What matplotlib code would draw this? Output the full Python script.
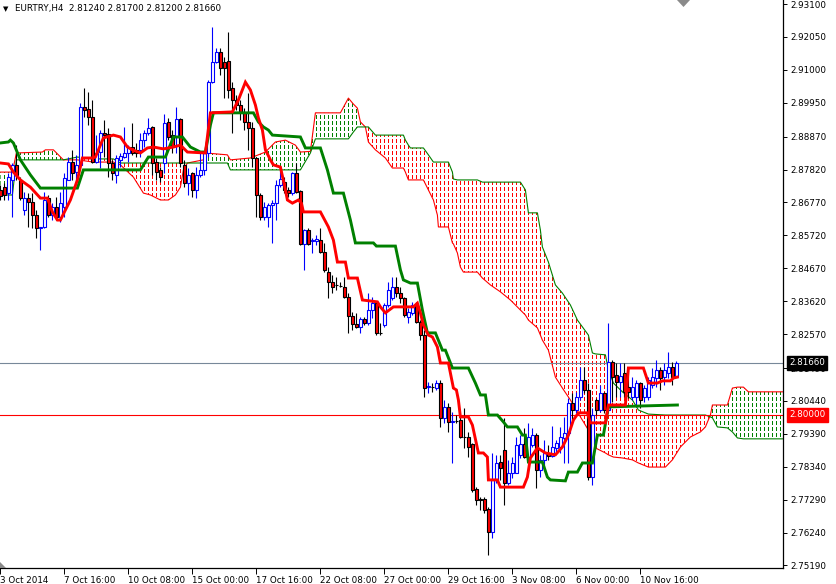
import numpy as np
import matplotlib
matplotlib.use("Agg")
import matplotlib.pyplot as plt
from matplotlib.path import Path
from matplotlib.patches import Polygon
from matplotlib.transforms import blended_transform_factory

# ---------------- data (EURTRY, H4) ----------------
opens = [2.8717, 2.8727, 2.8707, 2.8749, 2.8797, 2.8749, 2.8653, 2.8691, 2.8679, 2.8637,
         2.8596, 2.8599, 2.8691, 2.8637, 2.8663, 2.8631, 2.8663, 2.8749, 2.8806, 2.8774,
         2.8797, 2.8982, 2.8975, 2.8950, 2.8806, 2.8838, 2.8899, 2.8896, 2.8803, 2.8765,
         2.8813, 2.8822, 2.8835, 2.8854, 2.8845, 2.8845, 2.8876, 2.8899, 2.8918, 2.8806,
         2.8781, 2.8803, 2.8934, 2.8892, 2.8886, 2.8943, 2.8797, 2.8739, 2.8771, 2.8717,
         2.8765, 2.8781, 2.8835, 2.9061, 2.9125, 2.9157, 2.9125, 2.9128, 2.9042, 2.9004,
         2.8988, 2.8963, 2.8934, 2.8915, 2.8819, 2.8701, 2.8631, 2.8631, 2.8669, 2.8675,
         2.8733, 2.8742, 2.8717, 2.8707, 2.8771, 2.8714, 2.8545, 2.8589, 2.8554, 2.8554,
         2.8557, 2.8519, 2.8455, 2.8423, 2.8414, 2.8411, 2.8407, 2.8376, 2.8315, 2.8289,
         2.8280, 2.8305, 2.8293, 2.8334, 2.8356, 2.8261, 2.8286, 2.8350, 2.8372, 2.8407,
         2.8388, 2.8372, 2.8312, 2.8325, 2.8353, 2.8296, 2.8254, 2.8088, 2.8088, 2.8085,
         2.8101, 2.7990, 2.8025, 2.7977, 2.7980, 2.7983, 2.7929, 2.7929, 2.7907, 2.7763,
         2.7731, 2.7731, 2.7699, 2.7626, 2.7792, 2.7849, 2.7887, 2.7782, 2.7814, 2.7814,
         2.7872, 2.7907, 2.7865, 2.7903, 2.7935, 2.7824, 2.7856, 2.7878, 2.7868, 2.7894,
         2.7897, 2.7926, 2.7942, 2.8037, 2.8015, 2.8056, 2.8111, 2.8079, 2.7801, 2.8047,
         2.8015, 2.8069, 2.8015, 2.8168, 2.8127, 2.8104, 2.8133, 2.8088, 2.8056, 2.8056,
         2.8101, 2.8056, 2.8056, 2.8095, 2.8117, 2.8143, 2.8120, 2.8133, 2.8152, 2.8124]
highs = [2.8733, 2.8739, 2.8771, 2.8803, 2.8860, 2.8758, 2.8711, 2.8707, 2.8707, 2.8653,
         2.8599, 2.8711, 2.8701, 2.8675, 2.8695, 2.8711, 2.8771, 2.8822, 2.8845, 2.8829,
         2.8994, 2.9042, 2.9030, 2.9004, 2.8892, 2.8908, 2.8940, 2.8915, 2.8813, 2.8829,
         2.8835, 2.8918, 2.8860, 2.8931, 2.8867, 2.8899, 2.8908, 2.8947, 2.8921, 2.8819,
         2.8790, 2.8959, 2.8947, 2.8908, 2.8982, 2.8947, 2.8813, 2.8787, 2.8774, 2.8790,
         2.8835, 2.8838, 2.9068, 2.9237, 2.9170, 2.9170, 2.9141, 2.9221, 2.9061, 2.9020,
         2.9004, 2.8978, 2.9026, 2.8934, 2.8822, 2.8707, 2.8679, 2.8675, 2.8685, 2.8749,
         2.8787, 2.8758, 2.8727, 2.8774, 2.8803, 2.8717, 2.8592, 2.8596, 2.8564, 2.8573,
         2.8596, 2.8548, 2.8471, 2.8446, 2.8439, 2.8423, 2.8439, 2.8388, 2.8328, 2.8324,
         2.8312, 2.8312, 2.8388, 2.8375, 2.8360, 2.8293, 2.8356, 2.8423, 2.8439, 2.8439,
         2.8407, 2.8376, 2.8340, 2.8360, 2.8360, 2.8302, 2.8270, 2.8105, 2.8101, 2.8111,
         2.8111, 2.8047, 2.8037, 2.8009, 2.7999, 2.7993, 2.8022, 2.7945, 2.7910, 2.7769,
         2.7738, 2.7738, 2.7706, 2.7878, 2.7872, 2.7872, 2.7990, 2.7856, 2.7865, 2.7929,
         2.7935, 2.7958, 2.7974, 2.7958, 2.7942, 2.7872, 2.7919, 2.7903, 2.7964, 2.7919,
         2.7961, 2.7993, 2.8053, 2.8069, 2.8072, 2.8152, 2.8152, 2.8101, 2.8022, 2.8053,
         2.8095, 2.8072, 2.8293, 2.8175, 2.8165, 2.8165, 2.8165, 2.8120, 2.8120, 2.8111,
         2.8104, 2.8095, 2.8120, 2.8149, 2.8175, 2.8152, 2.8165, 2.8200, 2.8168, 2.8170]
lows = [2.8685, 2.8685, 2.8685, 2.8631, 2.8749, 2.8685, 2.8637, 2.8599, 2.8596, 2.8564,
        2.8526, 2.8596, 2.8631, 2.8621, 2.8621, 2.8615, 2.8631, 2.8749, 2.8749, 2.8739,
        2.8790, 2.8950, 2.8924, 2.8803, 2.8803, 2.8787, 2.8822, 2.8758, 2.8749, 2.8739,
        2.8790, 2.8819, 2.8806, 2.8829, 2.8822, 2.8822, 2.8854, 2.8892, 2.8765, 2.8749,
        2.8742, 2.8771, 2.8876, 2.8835, 2.8835, 2.8790, 2.8726, 2.8701, 2.8695, 2.8691,
        2.8758, 2.8765, 2.8822, 2.9058, 2.9122, 2.9084, 2.9010, 2.9010, 2.8899, 2.8972,
        2.8940, 2.8908, 2.8845, 2.8790, 2.8631, 2.8621, 2.8621, 2.8599, 2.8548, 2.8621,
        2.8726, 2.8707, 2.8695, 2.8701, 2.8707, 2.8542, 2.8462, 2.8542, 2.8516, 2.8542,
        2.8516, 2.8455, 2.8372, 2.8388, 2.8398, 2.8407, 2.8372, 2.8261, 2.8270, 2.8277,
        2.8261, 2.8286, 2.8286, 2.8309, 2.8254, 2.8254, 2.8280, 2.8344, 2.8366, 2.8376,
        2.8356, 2.8312, 2.8293, 2.8318, 2.8293, 2.8238, 2.8057, 2.8070, 2.8073, 2.8079,
        2.7961, 2.7974, 2.7945, 2.7846, 2.7974, 2.7926, 2.7894, 2.7865, 2.7754, 2.7712,
        2.7696, 2.7687, 2.7553, 2.7607, 2.7782, 2.7792, 2.7712, 2.7776, 2.7798, 2.7814,
        2.7862, 2.7862, 2.7856, 2.7897, 2.7766, 2.7801, 2.7830, 2.7856, 2.7865, 2.7878,
        2.7878, 2.7846, 2.7846, 2.7983, 2.8006, 2.8047, 2.8069, 2.7792, 2.7776, 2.7999,
        2.8009, 2.8006, 2.8006, 2.8041, 2.8056, 2.8056, 2.8056, 2.8053, 2.8047, 2.8025,
        2.8022, 2.8041, 2.8047, 2.8085, 2.8088, 2.8079, 2.8095, 2.8117, 2.8095, 2.8120]
closes = [2.8698, 2.8701, 2.8758, 2.8797, 2.8765, 2.8691, 2.8691, 2.8679, 2.8637, 2.8596,
          2.8599, 2.8685, 2.8637, 2.8663, 2.8631, 2.8675, 2.8755, 2.8806, 2.8771, 2.8797,
          2.8982, 2.8972, 2.8950, 2.8806, 2.8835, 2.8899, 2.8892, 2.8803, 2.8771, 2.8819,
          2.8825, 2.8835, 2.8854, 2.8835, 2.8835, 2.8876, 2.8899, 2.8915, 2.8803, 2.8774,
          2.8758, 2.8931, 2.8886, 2.8854, 2.8943, 2.8803, 2.8739, 2.8765, 2.8717, 2.8765,
          2.8781, 2.8835, 2.9061, 2.9125, 2.9157, 2.9106, 2.9106, 2.9036, 2.9004, 2.8988,
          2.8966, 2.8934, 2.8915, 2.8819, 2.8701, 2.8631, 2.8663, 2.8669, 2.8675, 2.8733,
          2.8752, 2.8717, 2.8707, 2.8771, 2.8711, 2.8545, 2.8589, 2.8545, 2.8557, 2.8560,
          2.8519, 2.8462, 2.8423, 2.8407, 2.8413, 2.8410, 2.8376, 2.8315, 2.8289, 2.8280,
          2.8305, 2.8293, 2.8334, 2.8356, 2.8261, 2.8260, 2.8350, 2.8398, 2.8407, 2.8388,
          2.8372, 2.8318, 2.8328, 2.8350, 2.8296, 2.8254, 2.8085, 2.8092, 2.8087, 2.8101,
          2.7990, 2.8025, 2.7977, 2.7980, 2.7979, 2.7929, 2.7928, 2.7897, 2.7760, 2.7728,
          2.7728, 2.7696, 2.7626, 2.7792, 2.7846, 2.7830, 2.7782, 2.7814, 2.7846, 2.7903,
          2.7907, 2.7865, 2.7929, 2.7935, 2.7824, 2.7856, 2.7878, 2.7868, 2.7897, 2.7910,
          2.7929, 2.7942, 2.8037, 2.8015, 2.8056, 2.8111, 2.8079, 2.7801, 2.7999, 2.8015,
          2.8069, 2.8015, 2.8168, 2.8120, 2.8104, 2.8124, 2.8073, 2.8073, 2.8088, 2.8101,
          2.8047, 2.8085, 2.8111, 2.8120, 2.8143, 2.8117, 2.8143, 2.8152, 2.8120, 2.8166]

# Ichimoku lines (bar index, price)
tenkan_bar = [0, 2, 3.25, 5, 7.5, 10, 11.75, 13, 14.25, 15, 16.25, 17.5, 19.25, 20.5, 23, 23.75,
              25.75, 28.25, 30, 31.75, 33, 35, 36.75, 38.25, 40.75, 43.25, 45, 46.75, 51.25,
              52.5, 58, 59.5, 61.25, 62.5, 63.75, 64.5, 65.5, 66.25, 67.5, 68.25, 70, 71,
              71.75, 73, 74.5, 75.25, 75.75, 80, 82, 83.25, 84.25, 86.25, 87, 89.25, 90.5,
              94.25, 95, 96.25, 98.25, 103.25, 104.25, 105, 105.75, 107, 108, 109.25, 110,
              112, 113.25, 114, 114.5, 115, 117, 118, 119.5, 120.75, 121.75, 122, 124.25,
              125, 130.75, 131.75, 132.5, 134.25, 136.25, 138.75, 140.5, 142, 143.25, 144.5,
              146.75, 147.5, 151.25, 152, 156.25, 157, 160.75, 162, 164.25, 165.5, 167.5,
              168.25, 169.25]
tenkan_val = [2.8803, 2.8800, 2.8774, 2.8749, 2.8726, 2.8691, 2.8691, 2.8647, 2.8621, 2.8621,
              2.8653, 2.8685, 2.8749, 2.8819, 2.8819, 2.8822, 2.8883, 2.8892, 2.8886, 2.8854,
              2.8845, 2.8835, 2.8851, 2.8854, 2.8848, 2.8854, 2.8860, 2.8838, 2.8835, 2.8963,
              2.8966, 2.9004, 2.9061, 2.9036, 2.8988, 2.8947, 2.8908, 2.8845, 2.8813, 2.8797,
              2.8790, 2.8733, 2.8685, 2.8675, 2.8685, 2.8675, 2.8647, 2.8647, 2.8599, 2.8557,
              2.8487, 2.8487, 2.8436, 2.8436, 2.8366, 2.8360, 2.8344, 2.8325, 2.8344, 2.8344,
              2.8356, 2.8325, 2.8286, 2.8254, 2.8248, 2.8216, 2.8165, 2.8165, 2.8085, 2.8079,
              2.8047, 2.7993, 2.7993, 2.7967, 2.7878, 2.7878, 2.7865, 2.7792, 2.7792, 2.7769,
              2.7769, 2.7801, 2.7862, 2.7894, 2.7878, 2.7872, 2.7897, 2.7935, 2.7983, 2.8006,
              2.8006, 2.7974, 2.7974, 2.8031, 2.8031, 2.8149, 2.8149, 2.8101, 2.8101, 2.8108,
              2.8108, 2.8117, 2.8120]

kijun_bar = [0, 2, 2.5, 3.25, 5, 7.5, 10, 19.25, 20.75, 35, 37, 41.25, 43.25, 45.5, 47.5, 50,
             51.25, 52.5, 53.25, 63.25, 64.5, 65.75, 67, 68, 75, 76.25, 80, 81.75, 83.25, 85.75,
             87.5, 88.75, 93.25, 94, 98.75, 100, 100.75, 102.5, 104.25, 105.5, 106.75, 108.75,
             110.5, 111.25, 113, 117, 118.75, 120, 121.25, 122, 124.25, 125.75, 126.75, 129.25,
             130.5, 131.25, 132, 135.5, 136.75, 137.5, 141.25, 142, 144.25, 145.5, 148, 149.25,
             150.75, 152, 169.25]
kijun_val = [2.8867, 2.8870, 2.8876, 2.8867, 2.8813, 2.8765, 2.8723, 2.8723, 2.8781, 2.8781,
             2.8822, 2.8822, 2.8886, 2.8886, 2.8854, 2.8838, 2.8838, 2.8924, 2.8963, 2.8963,
             2.8934, 2.8918, 2.8908, 2.8892, 2.8886, 2.8851, 2.8851, 2.8781, 2.8707, 2.8707,
             2.8621, 2.8548, 2.8548, 2.8538, 2.8538, 2.8462, 2.8430, 2.8420, 2.8420, 2.8334,
             2.8261, 2.8261, 2.8206, 2.8206, 2.8149, 2.8149, 2.8101, 2.8063, 2.8063, 2.7999,
             2.7999, 2.7977, 2.7961, 2.7961, 2.7935, 2.7935, 2.7849, 2.7849, 2.7801, 2.7792,
             2.7789, 2.7817, 2.7817, 2.7846, 2.7846, 2.7935, 2.7935, 2.8025, 2.8031]

span_bar = [0, 3, 4, 10.5, 11.25, 13.25, 15.75, 19.25, 23.25, 28.25, 30, 33.25, 35.75, 37.5,
            40, 42, 43.75, 45, 45.75, 46.75, 50.75, 51.25, 56.75, 57.5, 62.5, 66.25, 68.75,
            71.25, 73.75, 75, 77.5, 78.75, 85, 87, 88.25, 89.25, 90, 91.25, 92, 93.75, 96.25,
            98, 100.75, 101.25, 102, 102.5, 105.75, 107, 108.25, 109.25, 109.5, 112, 113,
            113.25, 114.25, 115, 115.75, 119.25, 120.5, 122.5, 125, 127.5, 130, 131.25, 132,
            134.25, 135, 135.5, 137, 138.75, 140.5, 142.5, 144.25, 147, 148, 148.75, 151.25,
            152, 153.25, 155.5, 158, 159.5, 162, 166.25, 168, 170, 172.5, 175, 176.25, 177.5,
            178, 179.25, 181.75, 183, 184.25, 185.75, 187, 195.5]
span_a = [2.8774, 2.8774, 2.8835, 2.8838, 2.8845, 2.8845, 2.8813, 2.8813, 2.8806, 2.8806,
          2.8797, 2.8758, 2.8707, 2.8701, 2.8685, 2.8685, 2.8701, 2.8726, 2.8781, 2.8803,
          2.8813, 2.8835, 2.8829, 2.8813, 2.8819, 2.8838, 2.8870, 2.8876, 2.8860, 2.8838,
          2.8840, 2.8963, 2.8963, 2.9010, 2.8991, 2.8978, 2.8934, 2.8918, 2.8870, 2.8845,
          2.8819, 2.8787, 2.8787, 2.8774, 2.8749, 2.8749, 2.8749, 2.8717, 2.8685, 2.8637,
          2.8599, 2.8599, 2.8548, 2.8545, 2.8516, 2.8471, 2.8455, 2.8455, 2.8436, 2.8414,
          2.8392, 2.8366, 2.8334, 2.8318, 2.8302, 2.8277, 2.8254, 2.8238, 2.8206, 2.8120,
          2.8085, 2.8047, 2.8009, 2.7951, 2.7919, 2.7894, 2.7878, 2.7872, 2.7865, 2.7862,
          2.7856, 2.7846, 2.7833, 2.7833, 2.7856, 2.7897, 2.7929, 2.7945, 2.7961, 2.7999,
          2.8031, 2.8031, 2.8031, 2.8085, 2.8088, 2.8088, 2.8073, 2.8073]
span_b = [2.8701, 2.8701, 2.8813, 2.8813, 2.8813, 2.8813, 2.8813, 2.8822, 2.8816, 2.8816,
          2.8803, 2.8803, 2.8803, 2.8803, 2.8803, 2.8803, 2.8803, 2.8803, 2.8803, 2.8803,
          2.8803, 2.8803, 2.8803, 2.8781, 2.8781, 2.8781, 2.8781, 2.8781, 2.8781, 2.8781,
          2.8835, 2.8880, 2.8880, 2.8880, 2.8902, 2.8918, 2.8918, 2.8918, 2.8918, 2.8892,
          2.8892, 2.8892, 2.8892, 2.8876, 2.8860, 2.8851, 2.8851, 2.8829, 2.8806, 2.8806,
          2.8806, 2.8806, 2.8774, 2.8752, 2.8749, 2.8749, 2.8749, 2.8749, 2.8742, 2.8742,
          2.8742, 2.8742, 2.8742, 2.8717, 2.8644, 2.8644, 2.8589, 2.8535, 2.8487, 2.8414,
          2.8388, 2.8350, 2.8302, 2.8254, 2.8197, 2.8194, 2.8191, 2.8143, 2.8101, 2.8073,
          2.8047, 2.8015, 2.8002, 2.7999, 2.7999, 2.7999, 2.7999, 2.7999, 2.7999, 2.7993,
          2.7990, 2.7961, 2.7958, 2.7945, 2.7926, 2.7923, 2.7923, 2.7923]

date_bars = [0, 16, 32, 48, 64, 80, 96, 112, 128, 144, 160]
date_labels = ["3 Oct 2014", "7 Oct 16:00", "10 Oct 08:00", "15 Oct 00:00", "17 Oct 16:00",
               "22 Oct 08:00", "27 Oct 00:00", "29 Oct 16:00", "3 Nov 08:00", "6 Nov 00:00",
               "10 Nov 16:00"]
price_ticks = [2.93100, 2.92050, 2.91000, 2.89950, 2.88870, 2.87820, 2.86770, 2.85720,
               2.84670, 2.83620, 2.82570, 2.81490, 2.80440, 2.79390, 2.78340, 2.77290,
               2.76240, 2.75190]
last_price = 2.81660
level_price = 2.80000
title = "EURTRY,H4  2.81240 2.81700 2.81200 2.81660"

# ---------------- figure ----------------
W, H = 837, 584
fig = plt.figure(figsize=(W / 100, H / 100), dpi=100)
fig.patch.set_facecolor("white")
ax = fig.add_axes([0, (H - 568) / H, 783 / W, 568 / H])
ax.set_facecolor("white")
YMIN, YMAX = 2.7511, 2.9323
ax.set_xlim(-0.1, 195.65)
ax.set_ylim(YMIN, YMAX)

FS = 6.3
RED = "#ff0000"
GREEN = "#008000"
BLUE = "#0000ff"

# cloud
sbar = np.array(span_bar)
sa = np.array(span_a)
sbv = np.array(span_b)
red_fill = ax.fill_between(sbar, sa, sbv, where=sa <= sbv, interpolate=True,
                           facecolor="none", edgecolor="none")
green_fill = ax.fill_between(sbar, sa, sbv, where=sa >= sbv, interpolate=True,
                             facecolor="none", edgecolor="none")
hatch_x = np.arange(0, 196)
for fill, col in [(red_fill, RED), (green_fill, GREEN)]:
    paths = fill.get_paths()
    if not paths:
        continue
    cp = Path.make_compound_path(*paths)
    lc = ax.vlines(hatch_x, YMIN, YMAX, colors=col, linewidth=0.85,
                   linestyles=[(0, (3, 2))], zorder=1, antialiased=False)
    lc.set_clip_path(cp, ax.transData)
ax.plot(sbar, sa, color=RED, lw=0.8, zorder=1.2)
ax.plot(sbar, sbv, color=GREEN, lw=0.8, zorder=1.2)

# horizontal lines
ax.axhline(last_price, color="#778899", lw=0.8, zorder=1.5)
ax.axhline(level_price, color=RED, lw=0.8, zorder=1.5)

# candles
o = np.array(opens); h = np.array(highs); l = np.array(lows); c = np.array(closes)
idx = np.arange(len(o))
bull = c >= o
ax.vlines(idx[bull], l[bull], h[bull], colors=BLUE, lw=0.8, zorder=3)
ax.vlines(idx[~bull], l[~bull], h[~bull], colors="black", lw=0.8, zorder=3)
body_lo = np.minimum(o, c)
body_h = np.abs(c - o)
ax.bar(idx[bull], body_h[bull], bottom=body_lo[bull], width=0.65,
       facecolor="white", edgecolor=BLUE, linewidth=0.8, zorder=3.1)
ax.bar(idx[~bull], body_h[~bull], bottom=body_lo[~bull], width=0.65,
       facecolor=RED, edgecolor="black", linewidth=0.8, zorder=3.1)

# tenkan / kijun
ax.plot(kijun_bar, kijun_val, color=GREEN, lw=2.1, zorder=4, solid_joinstyle="miter")
ax.plot(tenkan_bar, tenkan_val, color=RED, lw=2.1, zorder=4.1, solid_joinstyle="miter")

# axes styling
for s in ["top", "left"]:
    ax.spines[s].set_visible(False)
for s in ["right", "bottom"]:
    ax.spines[s].set_color("black")
    ax.spines[s].set_linewidth(0.9)
ax.yaxis.tick_right()
ax.set_yticks(price_ticks)
ax.set_yticklabels([f"{v:.5f}" for v in price_ticks])
ax.tick_params(axis="y", direction="out", length=3, width=0.7, pad=2,
               labelsize=FS, colors="black")
ax.set_xticks(date_bars)
ax.set_xticklabels(date_labels, ha="left")
ax.tick_params(axis="x", direction="out", length=4, width=0.7, pad=1.5,
               labelsize=FS, colors="black")

# price boxes
tr = blended_transform_factory(ax.transAxes, ax.transData)
ax.text(1.0 + 6 / 783, last_price, f"{last_price:.5f}", transform=tr, ha="left",
        va="center", color="white", fontsize=FS, clip_on=False, zorder=10,
        bbox=dict(boxstyle="square,pad=0.28", fc="black", ec="black"))
ax.text(1.0 + 6 / 783, level_price, f"{level_price:.5f}", transform=tr, ha="left",
        va="center", color="white", fontsize=FS, clip_on=False, zorder=10,
        bbox=dict(boxstyle="square,pad=0.28", fc=RED, ec=RED))

# title
fig.text(3 / W, 1 - 9 / H, "\u25bc", fontsize=5, color="black", va="center", ha="left")
fig.text(15 / W, 1 - 9 / H, title, fontsize=FS, color="black", va="center", ha="left")

# small grey markers
fig.patches.append(Polygon([[677 / W, 1], [690 / W, 1], [683.5 / W, 1 - 7 / H]],
                           closed=True, transform=fig.transFigure, fc="#8a8a8a", ec="none"))
fig.patches.append(Polygon([[0, (H - 562) / H], [0, (H - 568) / H], [6 / W, (H - 568) / H]],
                           closed=True, transform=fig.transFigure, fc="#8a8a8a", ec="none"))

fig.savefig("out.png", dpi=100, facecolor="white")
